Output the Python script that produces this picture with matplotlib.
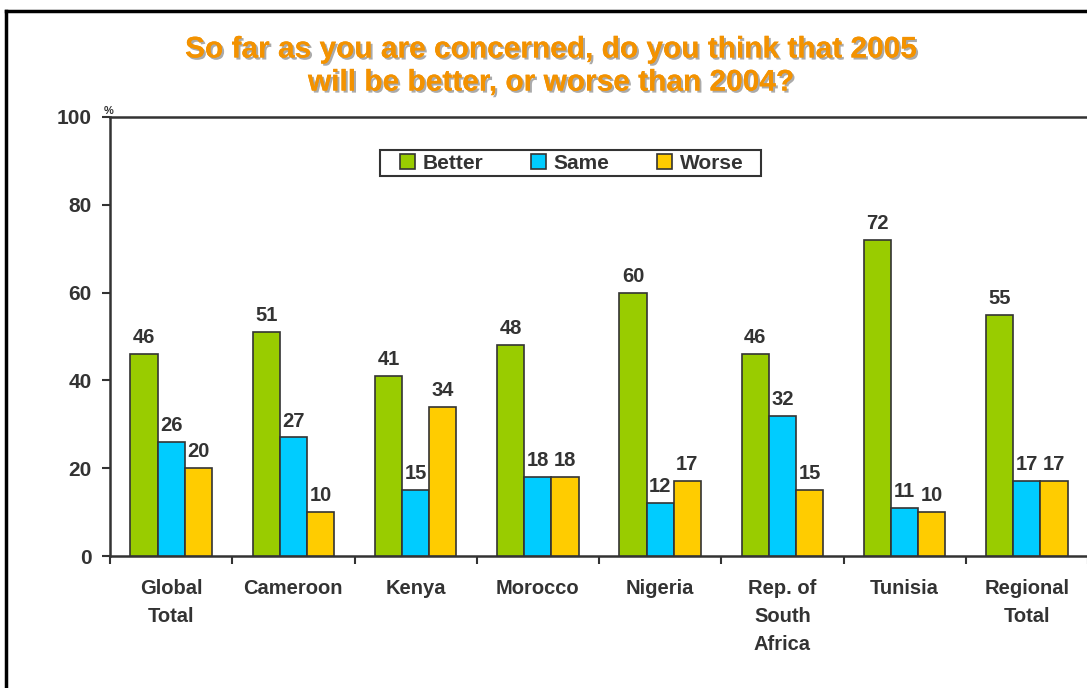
import matplotlib.pyplot as plt
import matplotlib.patheffects as pe
from matplotlib.lines import Line2D
from matplotlib.patches import Rectangle
import numpy as np

plt.rcParams['font.family'] = ['Liberation Sans', 'DejaVu Sans']
plt.rcParams['font.weight'] = 'bold'

# Survey answers per country (percent)
categories = ["Global\nTotal", "Cameroon", "Kenya", "Morocco", "Nigeria",
              "Rep. of\nSouth\nAfrica", "Tunisia", "Regional\nTotal"]
better = [46, 51, 41, 48, 60, 46, 72, 55]
same = [26, 27, 15, 18, 12, 32, 11, 17]
worse = [20, 10, 34, 18, 17, 15, 10, 17]

series = [("Better", better, "#99CC00"),
          ("Same", same, "#00CCFF"),
          ("Worse", worse, "#FFCC00")]

TEXT = "#333333"
W, H = 1087, 688

fig = plt.figure(figsize=(W / 100, H / 100), dpi=100)
ax = fig.add_axes([110 / W, 132 / H, 978 / W, 439 / H])

x = np.arange(len(categories)) + 0.5
width = 0.222
for i, (name, vals, color) in enumerate(series):
    pos = x + (i - 1) * width
    bars = ax.bar(pos, vals, width, color=color, edgecolor=TEXT,
                  linewidth=1.2, label=name, zorder=3)
    for b, v in zip(bars, vals):
        ax.annotate(str(v), (b.get_x() + b.get_width() / 2, v),
                    xytext=(0, 5), textcoords="offset points",
                    ha="center", va="bottom", fontsize=14.5,
                    fontweight="bold", color=TEXT)

ax.set_xlim(0, len(categories))
ax.set_ylim(0, 100)

# y axis
ax.set_yticks([0, 20, 40, 60, 80, 100])
ax.tick_params(axis="y", direction="out", length=6, width=1.5,
               colors=TEXT, labelsize=15, pad=7)
for lbl in ax.get_yticklabels():
    lbl.set_fontweight("bold")

# x axis: ticks at group boundaries, labels at group centres
ax.set_xticks(np.arange(len(categories) + 1))
ax.set_xticklabels([])
ax.tick_params(axis="x", direction="out", length=6, width=1.5, colors=TEXT)
for xc, cat in zip(x, categories):
    ax.text(xc, -5.2, cat, ha="center", va="top", fontsize=14.5,
            fontweight="bold", color=TEXT, linespacing=1.6)

for side in ["left", "top", "bottom"]:
    ax.spines[side].set_color(TEXT)
    ax.spines[side].set_linewidth(1.8)
ax.spines["right"].set_visible(False)

ax.text(-0.05, 100.3, "%", fontsize=8, color=TEXT, ha="left", va="bottom")

# legend box drawn separately so it can stay thin and wide
ax.add_patch(Rectangle((380 / W, 1 - 176 / H), 381 / W, 26 / H,
                       transform=fig.transFigure, facecolor="white",
                       edgecolor=TEXT, linewidth=1.5, zorder=4,
                       clip_on=False))
leg = ax.legend(loc="center left", bbox_to_anchor=(400 / W, 1 - 163.5 / H),
                bbox_transform=fig.transFigure, ncol=3, frameon=False,
                prop={"size": 15, "weight": "bold"},
                handlelength=0.7, handleheight=0.7, handletextpad=0.38,
                columnspacing=2.3, borderpad=0, borderaxespad=0)
leg.set_zorder(5)
for t in leg.get_texts():
    t.set_color(TEXT)

# title with soft grey drop shadow
fig.text(0.507, 1 - 66 / H,
         "So far as you are concerned, do you think that 2005\nwill be better, or worse than 2004?",
         ha="center", va="center", fontsize=21.5, fontweight="bold",
         color="#F39200", linespacing=1.23,
         path_effects=[pe.withSimplePatchShadow(offset=(1.5, -1.5),
                                                shadow_rgbFace="#aaaaaa",
                                                alpha=1),
                       pe.Normal()])

# outer frame (left and top edges)
fig.add_artist(Line2D([5.5 / W, 5.5 / W], [0, 1 - 10.5 / H],
                      color="black", linewidth=2.5))
fig.add_artist(Line2D([5.5 / W, 1], [1 - 10.5 / H, 1 - 10.5 / H],
                      color="black", linewidth=2.5))

fig.savefig("out.png", dpi=100)
